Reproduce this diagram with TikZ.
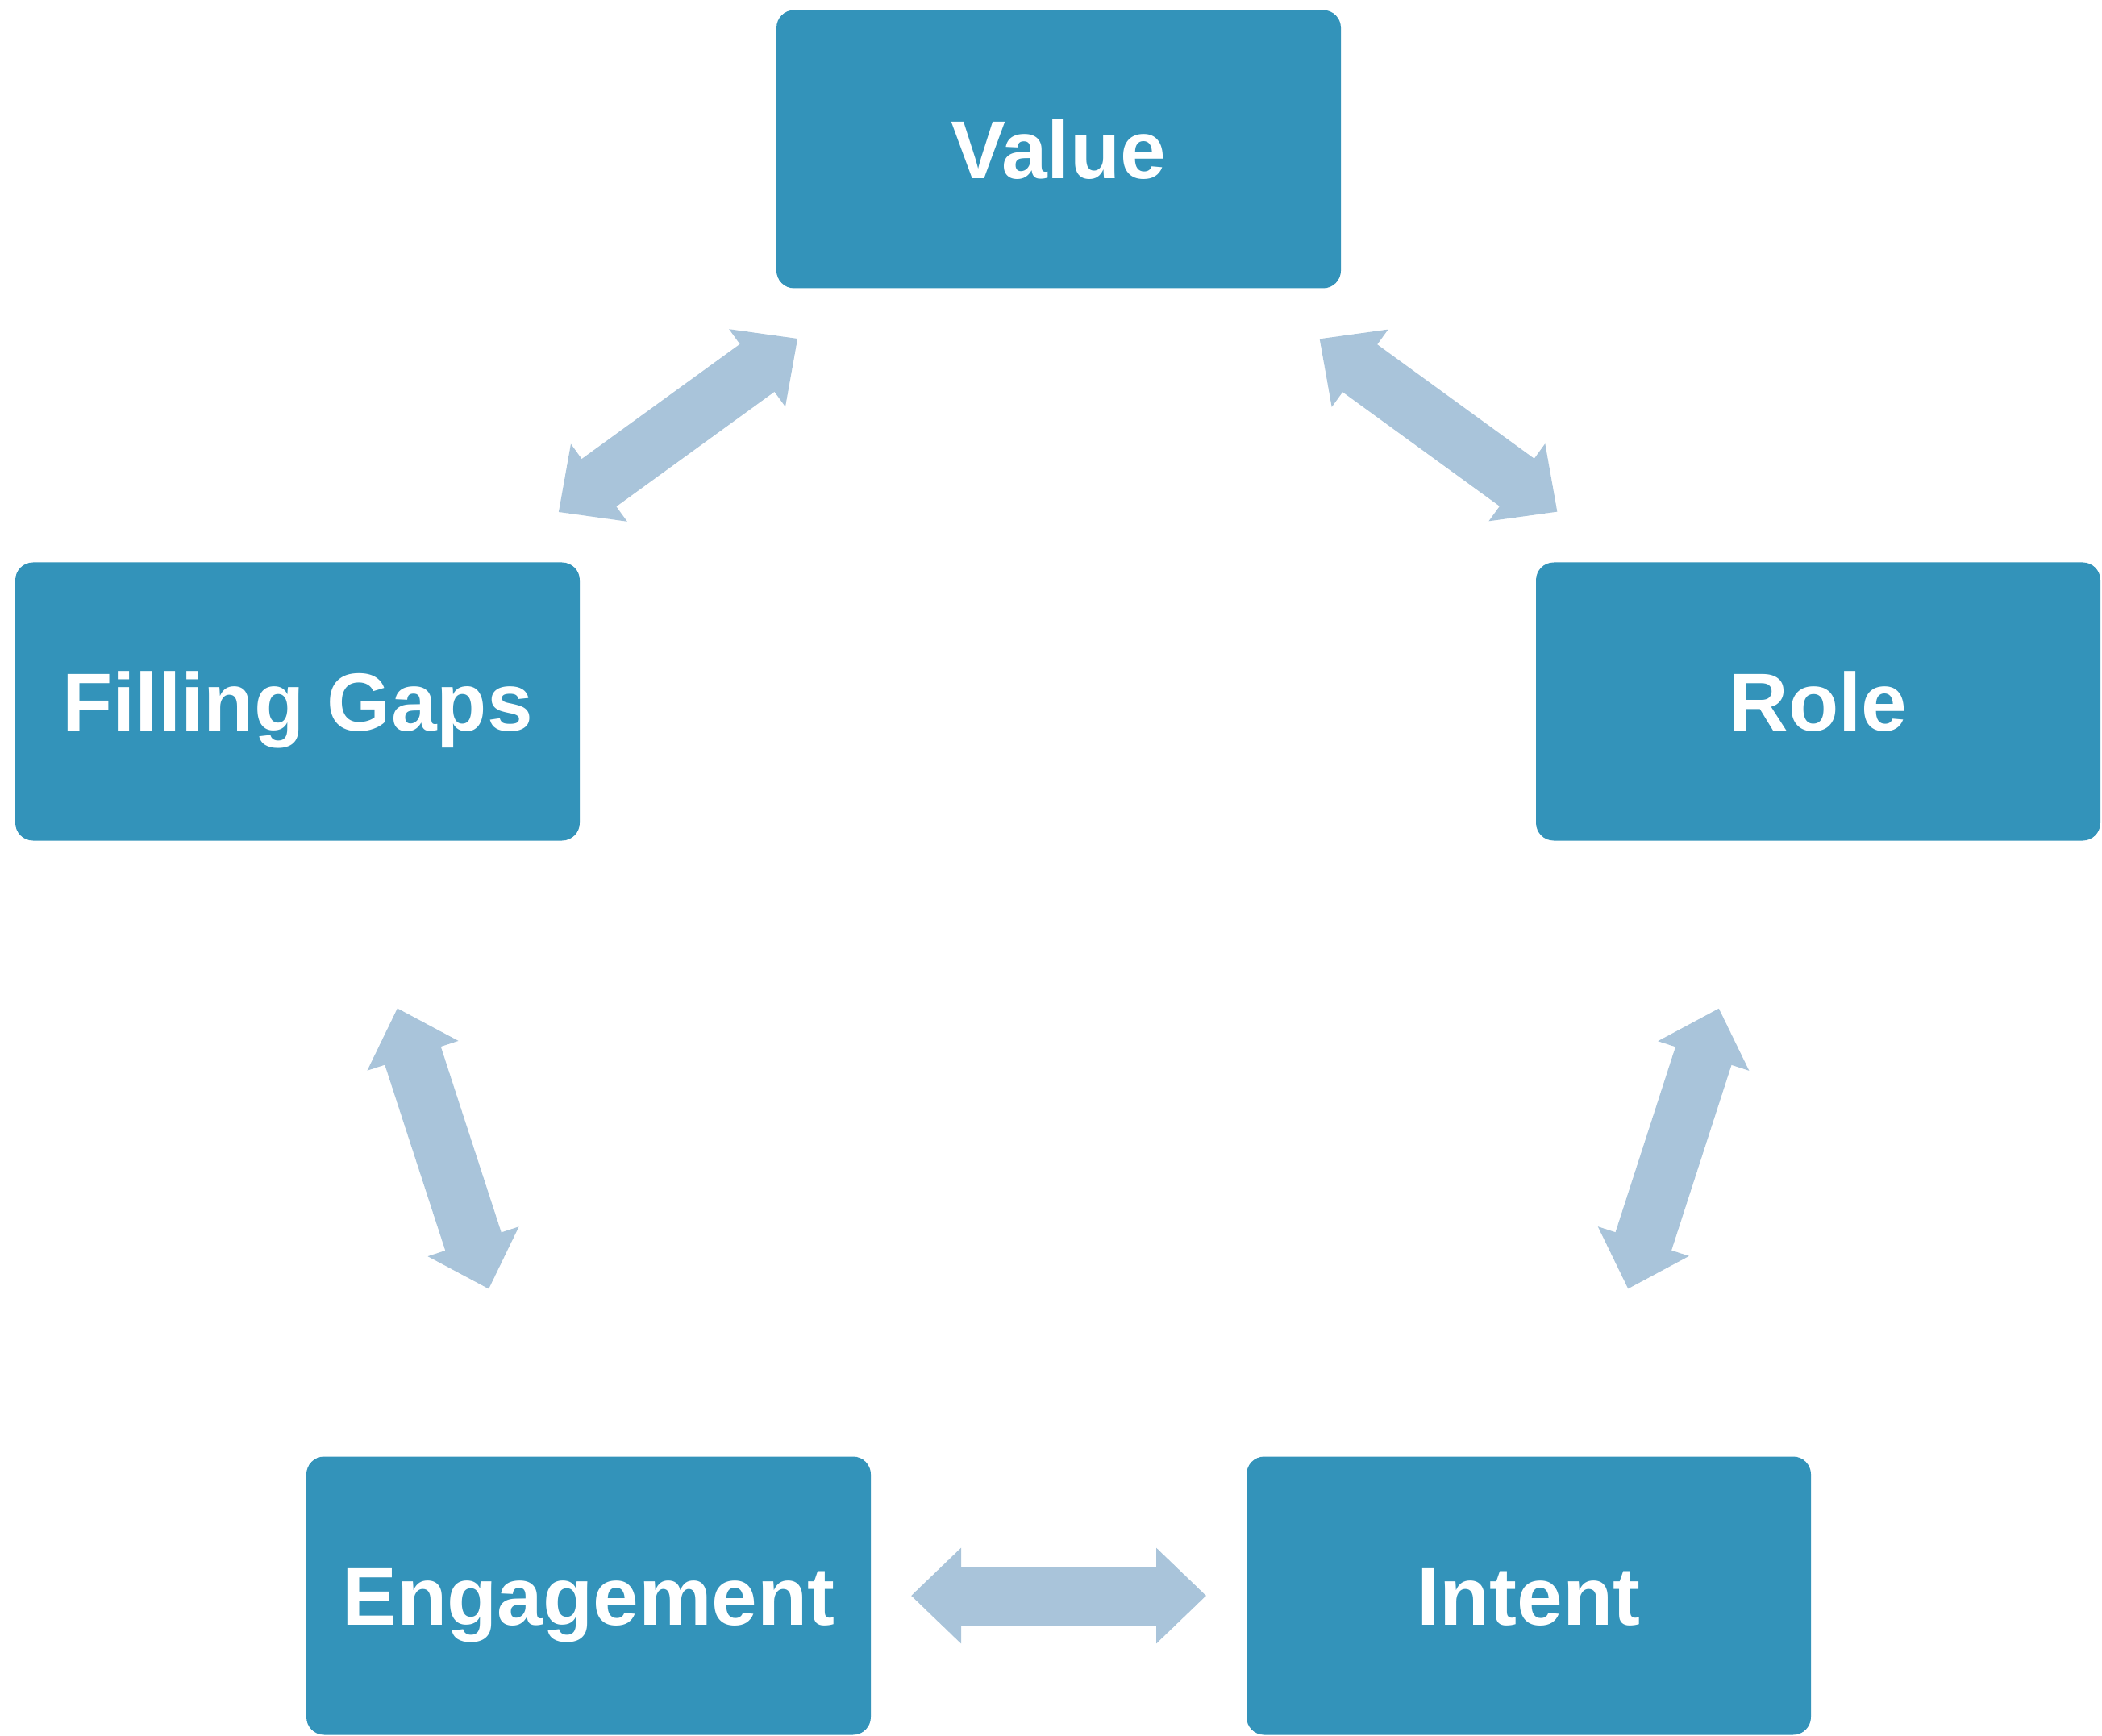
\documentclass[tikz,border=0pt]{standalone}
\usepackage{fontspec}
\setmainfont{Liberation Sans}
\usetikzlibrary{arrows.meta}
\definecolor{boxblue}{HTML}{3393BA}
\definecolor{arrowblue}{HTML}{A9C4DA}

\begin{document}
\begin{tikzpicture}[
  stage/.style={fill=boxblue, rounded corners=0.22cm, minimum width=7cm, minimum height=3.45cm,
    inner sep=0, text=white, text height=21pt, text depth=0pt,
    font=\fontsize{29}{35}\selectfont\bfseries},
  link/.style={arrowblue, line width=0.73cm, shorten <=4cm, shorten >=4cm,
    {Triangle[width=1.15cm, length=0.62cm]}-{Triangle[width=1.15cm, length=0.62cm]}}]
\useasboundingbox (0,0) rectangle (26.07,21.52);
\node [stage] (value) at (13.13,19.67) {Value};
\node [stage] (gaps) at (3.69,12.82) {Filling Gaps};
\node [stage] (role) at (22.55,12.82) {Role};
\node [stage] (engage) at (7.30,1.73) {Engagement};
\node [stage] (intent) at (18.96,1.73) {Intent};
\draw [link] (value.center) -- (gaps.center);
\draw [link] (value.center) -- (role.center);
\draw [link] (gaps.center) -- (engage.center);
\draw [link] (role.center) -- (intent.center);
\draw [link] (engage.center) -- (intent.center);
\end{tikzpicture}
\end{document}
